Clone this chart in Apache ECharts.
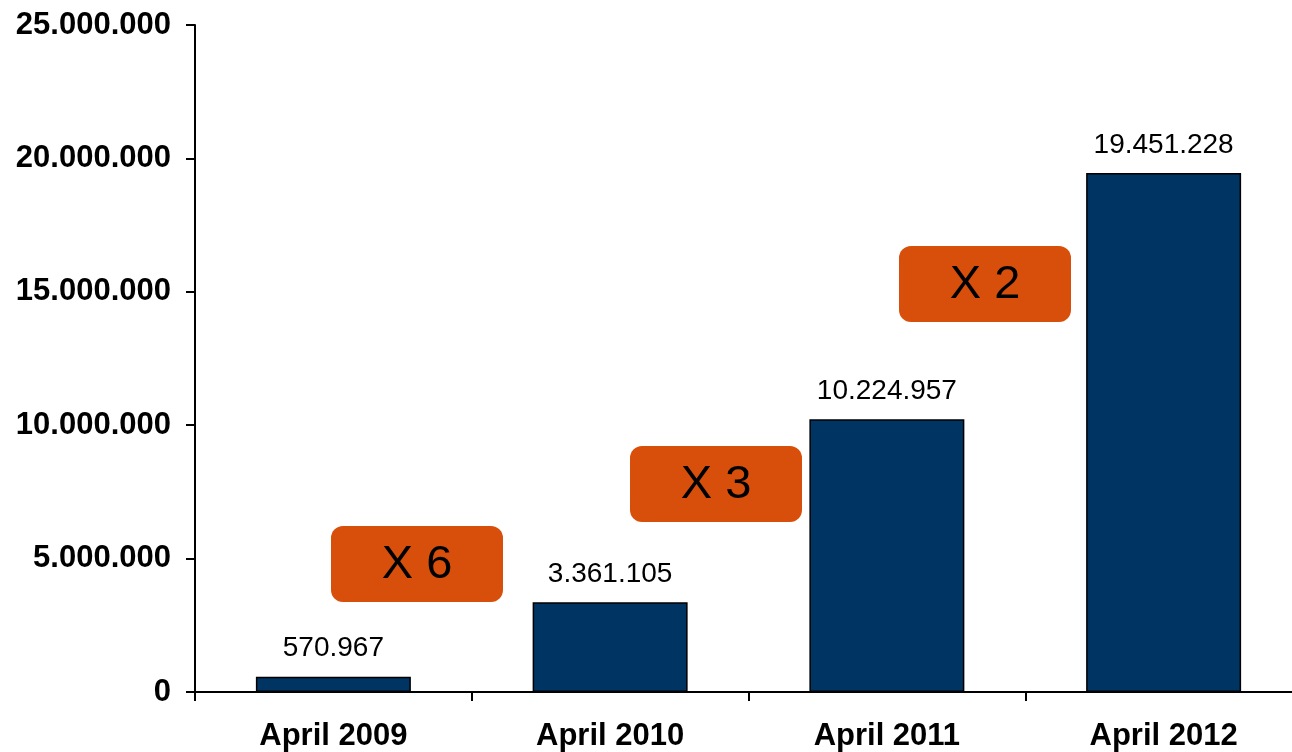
<!DOCTYPE html>
<html lang="en">
<head>
    <meta charset="UTF-8">
    <title>Users</title>
    <style>
        html, body { margin: 0; padding: 0; background: #fff; }
        #main { width: 1292px; height: 752px; }
    </style>
</head>
<body>
<div id="main"></div>
<script src="https://cdn.jsdelivr.net/npm/echarts@6/dist/echarts.min.js"></script>
<script>
    var categories = ['April 2009', 'April 2010', 'April 2011', 'April 2012'];
    var values = [570967, 3361105, 10224957, 19451228];
    var growthLabels = ['X 6', 'X 3', 'X 2'];
    // box pixel spots for the growth badges
    var growthBoxes = [[331, 526], [630, 446], [899, 246]];

    function dots(n) {
        return String(n).replace(/\B(?=(\d{3})+(?!\d))/g, '.');
    }

    var myChart = echarts.init(document.getElementById('main'));

    var graphics = [];
    for (var i = 0; i < growthLabels.length; i++) {
        graphics.push({
            type: 'group',
            left: growthBoxes[i][0],
            top: growthBoxes[i][1],
            children: [
                {
                    type: 'rect',
                    shape: {x: 0, y: 0, width: 172, height: 76, r: 12},
                    style: {fill: '#D84F0B'}
                },
                {
                    type: 'text',
                    x: 86,
                    y: 39,
                    style: {
                        text: growthLabels[i],
                        fill: '#000',
                        font: '47px "Liberation Sans", Arial, sans-serif',
                        align: 'center',
                        verticalAlign: 'middle'
                    }
                }
            ]
        });
    }

    var option = {
        animation: false,
        grid: {
            left: 195,
            top: 25,
            right: -10,    // axis runs a bit past the right edge
            bottom: 60,
            containLabel: false,
            outerBoundsMode: 'none'
        },
        xAxis: {
            type: 'category',
            data: categories,
            axisLine: {lineStyle: {color: '#000', width: 2}},
            axisTick: {show: true, length: 9, lineStyle: {color: '#000', width: 2}},
            axisLabel: {
                color: '#000',
                fontSize: 31,
                fontWeight: 'bold',
                fontFamily: '"Liberation Sans", Arial, sans-serif',
                margin: 29
            }
        },
        yAxis: {
            type: 'value',
            min: 0,
            max: 25000000,
            interval: 5000000,
            splitLine: {show: false},
            axisLine: {show: true, lineStyle: {color: '#000', width: 2}},
            axisTick: {show: true, length: 9, lineStyle: {color: '#000', width: 2}},
            axisLabel: {
                color: '#000',
                fontSize: 31,
                fontWeight: 'bold',
                fontFamily: '"Liberation Sans", Arial, sans-serif',
                margin: 24,
                formatter: function (v) { return dots(v); }
            }
        },
        series: [
            {
                type: 'bar',
                data: values,
                barWidth: '56%',
                itemStyle: {
                    color: '#003463',
                    borderColor: '#000',
                    borderWidth: 1.5
                },
                label: {
                    show: true,
                    position: 'top',
                    distance: 14,
                    color: '#000',
                    fontSize: 28,
                    fontFamily: '"Liberation Sans", Arial, sans-serif',
                    formatter: function (p) { return dots(p.value); }
                }
            }
        ],
        graphic: graphics
    };
    myChart.setOption(option);
</script>
</body>
</html>
